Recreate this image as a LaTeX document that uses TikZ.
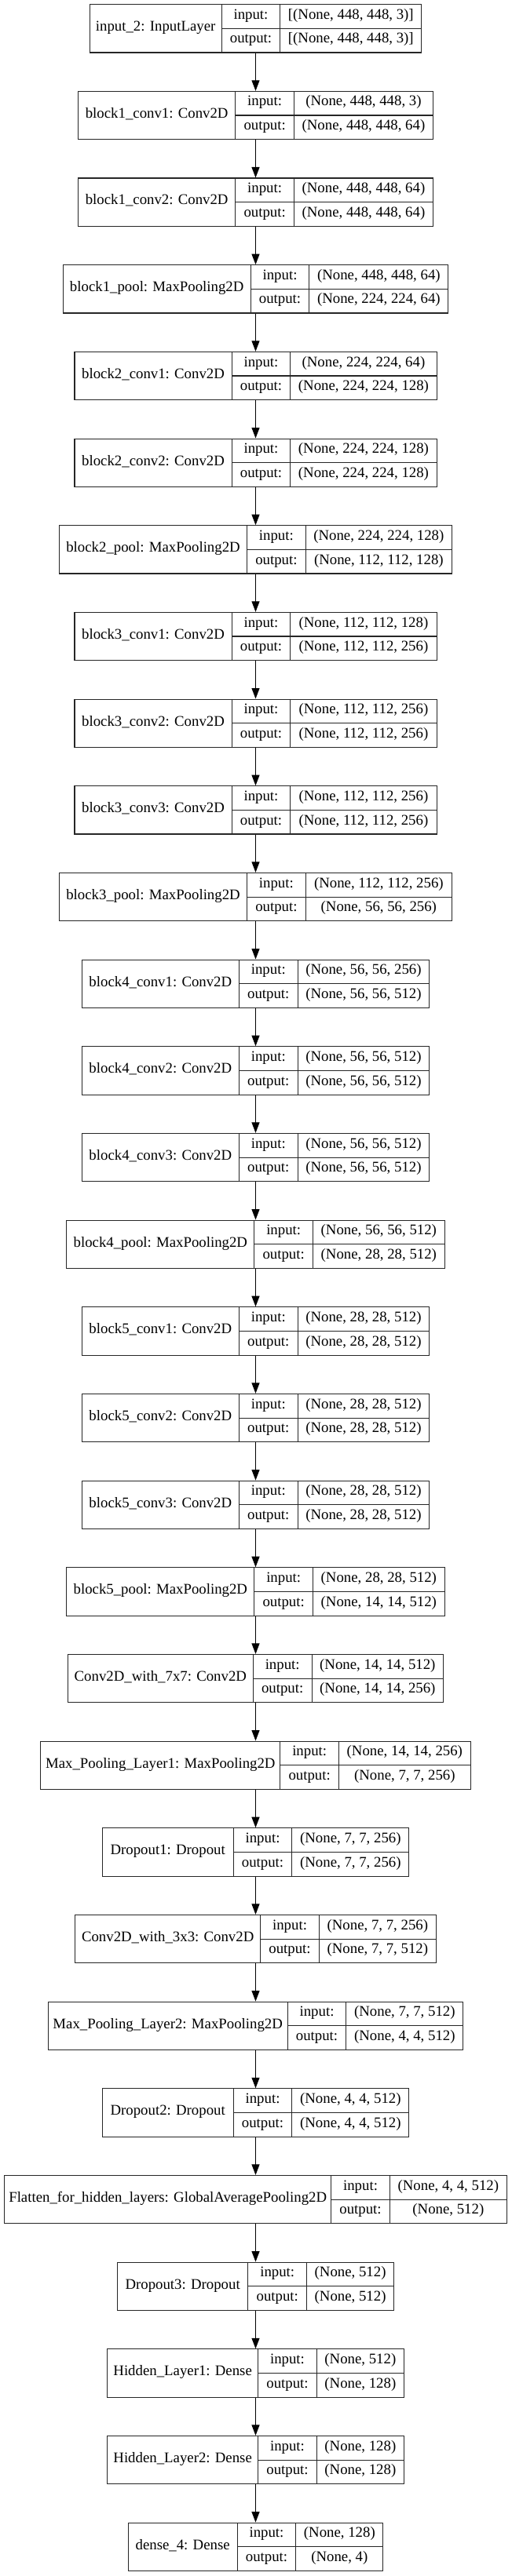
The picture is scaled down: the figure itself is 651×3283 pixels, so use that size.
\documentclass[tikz,border=0pt]{standalone}
\usepackage{fontspec}
\setmainfont{Liberation Serif}
\usetikzlibrary{arrows.meta}
\tikzset{
  kbox/.style={draw=black!85, line width=1.1pt, rectangle, inner sep=0pt, minimum height=61.3pt},
  ktext/.style={inner sep=0pt, font=\fontsize{18.8}{20}\selectfont, text height=0.66em, text depth=0pt, anchor=center},
  kline/.style={draw=black!85, line width=1.1pt},
  karrow/.style={draw=black, line width=1.1pt, -{Triangle[length=13.5pt,width=10pt]}},
}
\newcommand\klayer[6]{%
  \pgfmathsetmacro\kW{#3+74.7+#4}%
  \pgfmathsetmacro\kL{325.5-\kW/2}%
  \pgfmathsetmacro\kT{5.7+(#1-1)*110.67}%
  \pgfmathsetmacro\kDa{\kL+#3}%
  \pgfmathsetmacro\kDb{\kDa+74.7}%
  \pgfmathsetmacro\kR{\kL+\kW}%
  \node[kbox, minimum width=\kW pt] (n#1) at (325.5,\kT+30.65) {};
  \draw[kline] (\kDa,\kT) -- (\kDa,\kT+61.3);
  \draw[kline] (\kDb,\kT) -- (\kDb,\kT+61.3);
  \draw[kline] (\kDa,\kT+30.65) -- (\kR,\kT+30.65);
  \node[ktext] (n#1name) at ({\kL+#3/2},\kT+30.65) {#2};
  \node[ktext] (n#1ilab) at ({\kDa+37.35},\kT+15.33) {input:};
  \node[ktext] (n#1olab) at ({\kDa+37.35},\kT+45.98) {output:};
  \node[ktext] (n#1ival) at ({\kDb+#4/2},\kT+15.33) {#5};
  \node[ktext] (n#1oval) at ({\kDb+#4/2},\kT+45.98) {#6};
}
\begin{document}
\begin{tikzpicture}[x=1pt,y=-1pt]
\useasboundingbox (0,0) rectangle (651,3283);
\fill[white] (0,0) rectangle (651,3283);
\klayer{1}{input\_2: InputLayer}{168}{180}{[(None, 448, 448, 3)]}{[(None, 448, 448, 3)]}
\klayer{2}{block1\_conv1: Conv2D}{200.2}{176.9}{(None, 448, 448, 3)}{(None, 448, 448, 64)}
\klayer{3}{block1\_conv2: Conv2D}{200.2}{176.9}{(None, 448, 448, 64)}{(None, 448, 448, 64)}
\klayer{4}{block1\_pool: MaxPooling2D}{239}{176.9}{(None, 448, 448, 64)}{(None, 224, 224, 64)}
\klayer{5}{block2\_conv1: Conv2D}{200.2}{186.2}{(None, 224, 224, 64)}{(None, 224, 224, 128)}
\klayer{6}{block2\_conv2: Conv2D}{200.2}{186.2}{(None, 224, 224, 128)}{(None, 224, 224, 128)}
\klayer{7}{block2\_pool: MaxPooling2D}{239}{186.2}{(None, 224, 224, 128)}{(None, 112, 112, 128)}
\klayer{8}{block3\_conv1: Conv2D}{200.2}{186.2}{(None, 112, 112, 128)}{(None, 112, 112, 256)}
\klayer{9}{block3\_conv2: Conv2D}{200.2}{186.2}{(None, 112, 112, 256)}{(None, 112, 112, 256)}
\klayer{10}{block3\_conv3: Conv2D}{200.2}{186.2}{(None, 112, 112, 256)}{(None, 112, 112, 256)}
\klayer{11}{block3\_pool: MaxPooling2D}{239}{186.2}{(None, 112, 112, 256)}{(None, 56, 56, 256)}
\klayer{12}{block4\_conv1: Conv2D}{200.2}{167.6}{(None, 56, 56, 256)}{(None, 56, 56, 512)}
\klayer{13}{block4\_conv2: Conv2D}{200.2}{167.6}{(None, 56, 56, 512)}{(None, 56, 56, 512)}
\klayer{14}{block4\_conv3: Conv2D}{200.2}{167.6}{(None, 56, 56, 512)}{(None, 56, 56, 512)}
\klayer{15}{block4\_pool: MaxPooling2D}{239}{167.6}{(None, 56, 56, 512)}{(None, 28, 28, 512)}
\klayer{16}{block5\_conv1: Conv2D}{200.2}{167.6}{(None, 28, 28, 512)}{(None, 28, 28, 512)}
\klayer{17}{block5\_conv2: Conv2D}{200.2}{167.6}{(None, 28, 28, 512)}{(None, 28, 28, 512)}
\klayer{18}{block5\_conv3: Conv2D}{200.2}{167.6}{(None, 28, 28, 512)}{(None, 28, 28, 512)}
\klayer{19}{block5\_pool: MaxPooling2D}{239}{167.6}{(None, 28, 28, 512)}{(None, 14, 14, 512)}
\klayer{20}{Conv2D\_with\_7x7: Conv2D}{236}{167.6}{(None, 14, 14, 512)}{(None, 14, 14, 256)}
\klayer{21}{Max\_Pooling\_Layer1: MaxPooling2D}{305}{167.6}{(None, 14, 14, 256)}{(None, 7, 7, 256)}
\klayer{22}{Dropout1: Dropout}{167}{148.9}{(None, 7, 7, 256)}{(None, 7, 7, 256)}
\klayer{23}{Conv2D\_with\_3x3: Conv2D}{236}{148.9}{(None, 7, 7, 256)}{(None, 7, 7, 512)}
\klayer{24}{Max\_Pooling\_Layer2: MaxPooling2D}{305}{148.9}{(None, 7, 7, 512)}{(None, 4, 4, 512)}
\klayer{25}{Dropout2: Dropout}{167}{148.9}{(None, 4, 4, 512)}{(None, 4, 4, 512)}
\klayer{26}{Flatten\_for\_hidden\_layers: GlobalAveragePooling2D}{416}{148.9}{(None, 4, 4, 512)}{(None, 512)}
\klayer{27}{Dropout3: Dropout}{166.5}{111}{(None, 512)}{(None, 512)}
\klayer{28}{Hidden\_Layer1: Dense}{192}{111}{(None, 512)}{(None, 128)}
\klayer{29}{Hidden\_Layer2: Dense}{192}{111}{(None, 128)}{(None, 128)}
\klayer{30}{dense\_4: Dense}{139}{111}{(None, 128)}{(None, 4)}
\foreach \i in {1,...,29}{%
  \pgfmathtruncatemacro\j{\i+1}%
  \draw[karrow] (n\i.south) -- (n\j.north);
}
\end{tikzpicture}
\end{document}
